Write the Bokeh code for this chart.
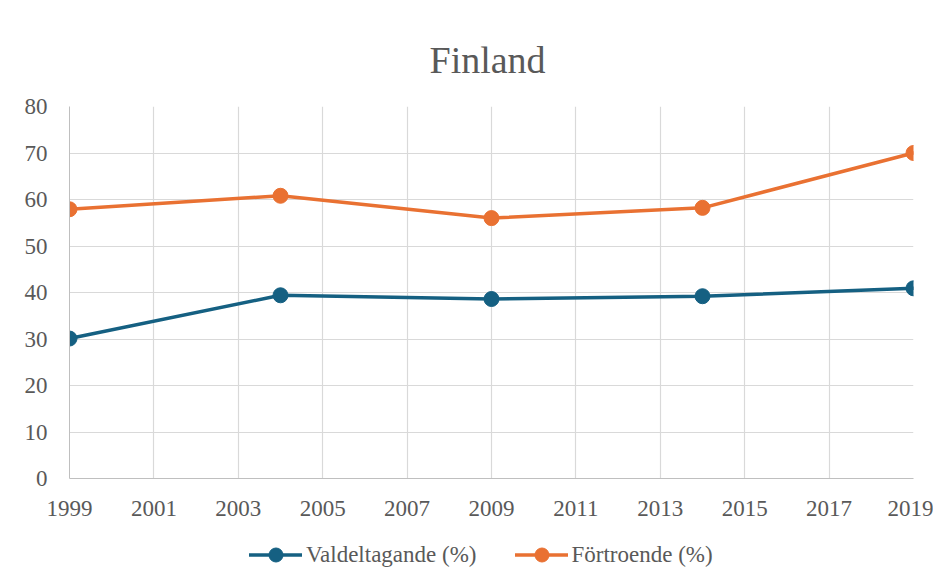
from bokeh.plotting import figure
from bokeh.layouts import column
from bokeh.models import Range1d, FixedTicker, Legend, LegendItem
from bokeh.embed import file_html
from bokeh.resources import INLINE

years = [1999, 2004, 2009, 2014, 2019]
valdeltagande = [30.1, 39.4, 38.6, 39.2, 40.9]
fortroende = [57.9, 60.8, 56.0, 58.2, 70.0]
x_ticks = [1999, 2001, 2003, 2005, 2007, 2009, 2011, 2013, 2015, 2017, 2019]
y_ticks = [0, 10, 20, 30, 40, 50, 60, 70, 80]

title_text = "Finland"
label_v = "Valdeltagande (%)"
label_f = "Förtroende (%)"

FONT = "Liberation Serif"
TXT = "#595959"
BLUE = "#156082"
ORANGE = "#E97132"

p = figure(width=933, height=522, output_backend="svg", toolbar_location=None,
           x_range=Range1d(1999, 2019), y_range=Range1d(0, 80),
           min_border_left=69, min_border_right=20, min_border_top=106, min_border_bottom=44)

p.title.text = title_text
p.title.align = "left"
p.title.offset = 360
p.title.vertical_align = "top"
p.title.standoff = 48
p.title.text_font = FONT
p.title.text_font_size = "38px"
p.title.text_font_style = "normal"
p.title.text_color = TXT

p.outline_line_color = None
p.background_fill_color = "white"
p.border_fill_color = "white"

for ax, ticks in ((p.xaxis, x_ticks), (p.yaxis, y_ticks)):
    ax.ticker = FixedTicker(ticks=ticks)
    ax.major_tick_line_color = None
    ax.minor_tick_line_color = None
    ax.axis_line_color = "#bfbfbf"
    ax.axis_line_width = 1
    ax.major_label_text_font = FONT
    ax.major_label_text_font_size = "23px"
    ax.major_label_text_color = TXT
p.xaxis.major_label_standoff = 16
p.yaxis.major_label_standoff = 16

p.xgrid.ticker = FixedTicker(ticks=x_ticks)
p.ygrid.ticker = FixedTicker(ticks=y_ticks)
p.grid.grid_line_color = "#d9d9d9"
p.grid.grid_line_width = 1.2

line_kw = dict(line_width=3.5, line_cap="round", line_join="round")
p.line(years, valdeltagande, line_color=BLUE, **line_kw)
p.scatter(years, valdeltagande, size=15, fill_color=BLUE, line_color=BLUE)
p.line(years, fortroende, line_color=ORANGE, **line_kw)
p.scatter(years, fortroende, size=15, fill_color=ORANGE, line_color=ORANGE)

# legend row below the chart (its renderers fall outside this strip's ranges)
pl = figure(width=933, height=50, output_backend="svg", toolbar_location=None,
            x_range=Range1d(0, 1), y_range=Range1d(0, 1),
            x_axis_location=None, y_axis_location=None,
            min_border_left=0, min_border_right=0, min_border_top=0, min_border_bottom=0)
pl.grid.visible = False
pl.outline_line_color = None
pl.border_fill_color = "white"
pl.background_fill_color = "white"

e1 = pl.line(years, valdeltagande, line_color=BLUE, **line_kw)
m1 = pl.scatter(years, valdeltagande, size=14, fill_color=BLUE, line_color=BLUE)
e2 = pl.line(years, fortroende, line_color=ORANGE, **line_kw)
m2 = pl.scatter(years, fortroende, size=14, fill_color=ORANGE, line_color=ORANGE)

legend = Legend(items=[LegendItem(label=label_v, renderers=[e1, m1]),
                       LegendItem(label=label_f, renderers=[e2, m2])],
                orientation="horizontal", location=(180, 0))
legend.label_text_font = FONT
legend.label_text_font_size = "23px"
legend.label_text_color = TXT
legend.border_line_color = None
legend.background_fill_alpha = 0
legend.glyph_width = 53
legend.glyph_height = 35
legend.label_standoff = 4
legend.spacing = 38
legend.margin = 0
legend.padding = 0
pl.add_layout(legend)

layout = column(p, pl, spacing=0)
open("out.html", "w").write(file_html(layout, INLINE))
